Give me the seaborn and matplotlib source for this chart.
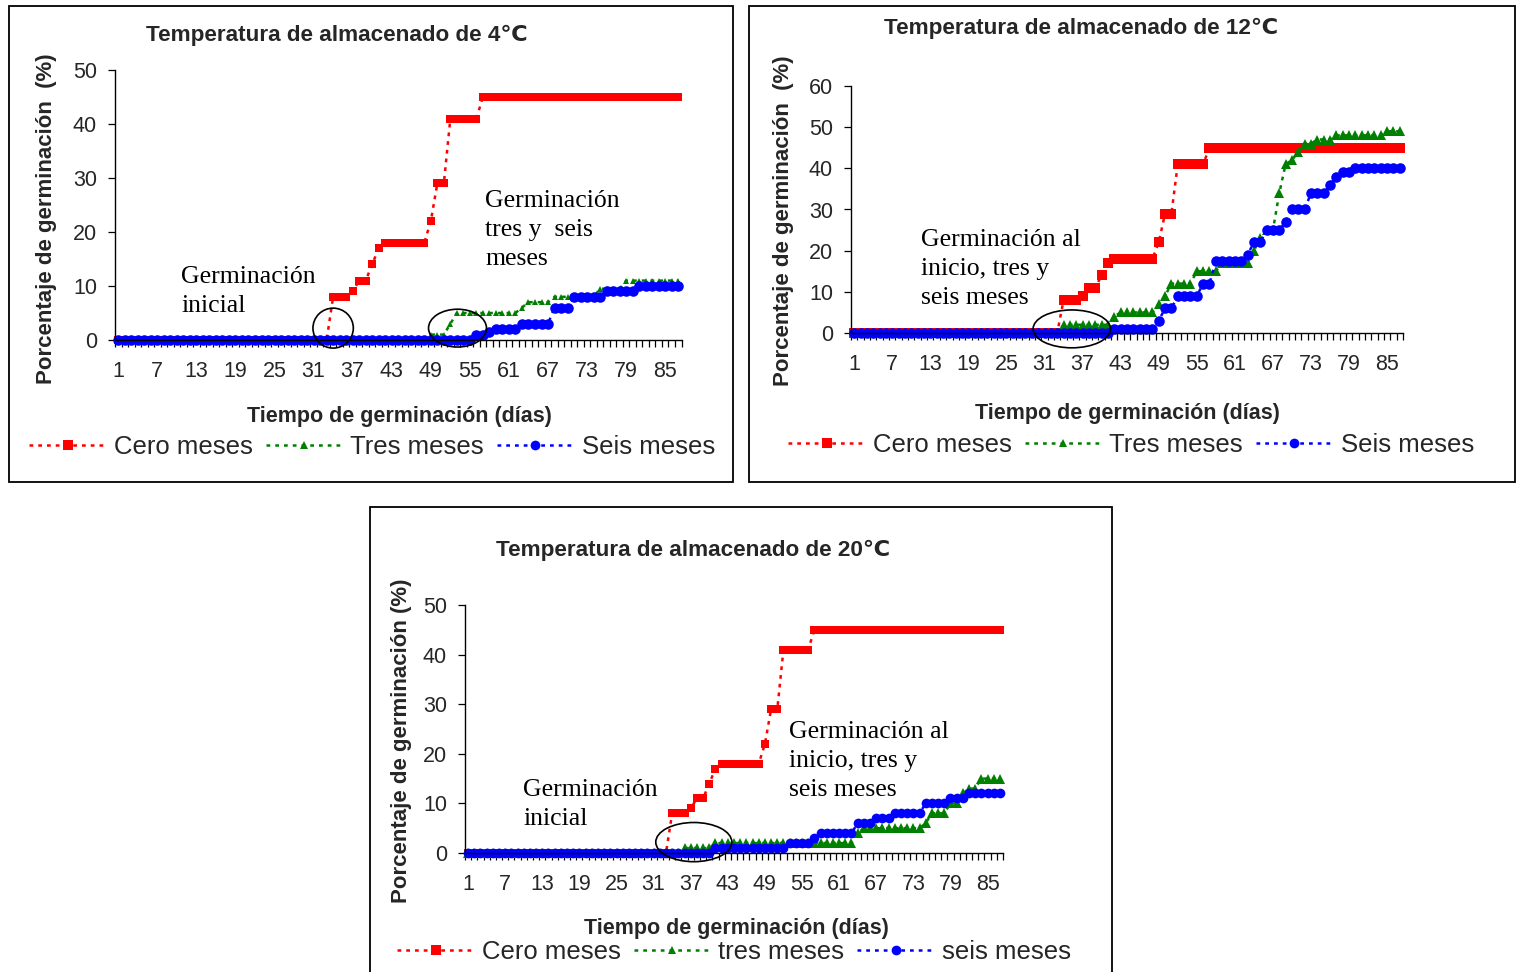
import numpy as np
import pandas as pd
import matplotlib
matplotlib.use("Agg")
import matplotlib.pyplot as plt
import seaborn as sns
from matplotlib.patches import Ellipse, Rectangle
from matplotlib.lines import Line2D

# ---------------- data (germination %, one value per day) ----------------
days = list(range(1, 88))
tick_days = list(range(1, 88, 6))          # 1, 7, 13, ... 85

# 4 C
cero_4 = [0]*33 + [8]*3 + [9] + [11]*2 + [14] + [17] + [18]*7 + [22] + [29]*2 + [41]*5 + [45]*31
tres_4 = [0]*48 + [1]*3 + [3] + [5]*10 + [6] + [7]*4 + [8]*7 + [9.5]*4 + [11]*9
seis_4 = [0]*55 + [1]*2 + [1.5] + [2]*4 + [3]*5 + [6]*3 + [8]*5 + [9]*5 + [10]*7

# 12 C
cero_12 = [0]*33 + [8]*3 + [9] + [11]*2 + [14] + [17] + [18]*7 + [22] + [29]*2 + [41]*5 + [45]*31
tres_12 = ([0]*33 + [2]*8 + [4] + [5]*6 + [7] + [9] + [12]*4 + [15]*4 + [17]*5 + [20] + [23]
           + [25]*2 + [34] + [41] + [42] + [44] + [46]*2 + [47]*3 + [48]*8 + [49]*3)
seis_12 = ([0]*41 + [1]*7 + [3] + [6]*2 + [9]*4 + [12]*2 + [17.5]*5 + [19] + [22]*2 + [25]*3
           + [27] + [30]*3 + [34]*3 + [36] + [38] + [39]*2 + [40]*8)

# 20 C
cero_20 = [0]*33 + [8]*3 + [9] + [11]*2 + [14] + [17] + [18]*7 + [22] + [29]*2 + [41]*5 + [45]*31
tres_20 = [0]*35 + [1]*5 + [2]*23 + [4] + [5]*10 + [6] + [8]*3 + [10]*2 + [12] + [13]*2 + [15]*4
seis_20 = [0]*40 + [1]*12 + [2]*4 + [3] + [4]*6 + [6]*3 + [7]*3 + [8]*5 + [10]*4 + [11]*3 + [12]*6

titles = ["Temperatura de almacenado de 4\u2103",
          "Temperatura de almacenado de 12\u2103",
          "Temperatura de almacenado de 20\u2103"]
ylabels = ["Porcentaje de germinaci\u00f3n  (%)",
           "Porcentaje de germinaci\u00f3n  (%)",
           "Porcentaje de germinaci\u00f3n (%)"]
xlabel = "Tiempo de germinaci\u00f3n (d\u00edas)"
legend_labels = [["Cero meses", "Tres meses", "Seis meses"],
                 ["Cero meses", "Tres meses", "Seis meses"],
                 ["Cero meses", "tres meses", "seis meses"]]
notes = [["Germinaci\u00f3n\ninicial", "Germinaci\u00f3n\ntres y  seis\nmeses"],
         ["Germinaci\u00f3n al\ninicio, tres y\nseis meses"],
         ["Germinaci\u00f3n\ninicial", "Germinaci\u00f3n al\ninicio, tres y\nseis meses"]]
series = [[cero_4, tres_4, seis_4], [cero_12, tres_12, seis_12], [cero_20, tres_20, seis_20]]
ymax = [50, 60, 50]

# ---------------- styling / layout ----------------
sns.set_theme(style="white")
plt.rcParams['font.family'] = ['Liberation Sans', 'DejaVu Sans']

W, H = 1516, 972
fig = plt.figure(figsize=(W / 100, H / 100), dpi=100)
def fx(px): return px / W
def fy(py): return 1 - py / H

colors = ["#FF0000", "#008000", "#0000FF"]
markers = ["s", "^", "o"]

panels = [
    dict(frame=(9, 6, 733, 482), ax=(115, 70, 681.5, 340),
         title=(337, 35), ylab=(47, 219), xlab=(399, 416), leg=(372, 447),
         ms=[6.4, 5.0, 7.6],
         notes_xy=[(181, 266), (485, 190)],
         ellipses=[(34.0, 2.2, 6.2, 7.4), (53.1, 2.2, 8.9, 7.0)]),
    dict(frame=(749, 6, 1515, 482), ax=(851, 86, 1403, 333),
         title=(1081, 28), ylab=(783, 221), xlab=(1127, 413), leg=(1131, 445),
         ms=[6.8, 7.8, 7.6],
         notes_xy=[(921, 229)],
         ellipses=[(35.3, 1.0, 12.2, 9.2)]),
    dict(frame=(370, 507, 1112, 975), ax=(465, 605, 1003, 853),
         title=(693, 550), ylab=(401, 741), xlab=(736, 928), leg=(734, 952),
         ms=[6.0, 6.6, 7.0],
         notes_xy=[(523, 779), (789, 721)],
         ellipses=[(37.5, 2.2, 12.3, 7.9)]),
]

for i, p in enumerate(panels):
    x0, y0, x1, y1 = p["frame"]
    fig.add_artist(Rectangle((fx(x0), fy(y1)), fx(x1) - fx(x0), fy(y0) - fy(y1),
                             transform=fig.transFigure, fill=False,
                             edgecolor="black", linewidth=1.3, clip_on=False))
    l, t, r, b = p["ax"]
    ax = fig.add_axes([fx(l), fy(b), fx(r) - fx(l), fy(t) - fy(b)])
    ax.set_facecolor("none")

    for j in range(3):
        sns.lineplot(x=days, y=series[i][j], ax=ax, color=colors[j],
                     marker=markers[j], markersize=p["ms"][j],
                     markeredgewidth=0, linewidth=1.8,
                     linestyle=(0, (1.5, 2.0)), errorbar=None, legend=False)
    for ln in ax.lines:
        ln.set_clip_on(False)

    ax.set_xlim(0.5, 87.5)
    ax.set_ylim(0, ymax[i])
    ax.set_yticks(range(0, ymax[i] + 1, 10))
    ax.set_xticks(tick_days)
    ax.set_xticklabels([str(d) for d in tick_days])
    ax.set_xticks(np.arange(0.5, 88, 1.0), minor=True)
    ax.tick_params(axis="x", which="major", length=0, pad=15, labelsize=15.5)
    ax.tick_params(axis="x", which="minor", length=5, width=0.9, color="black", direction="out")
    ax.tick_params(axis="y", which="major", length=5, width=0.9, color="black",
                   direction="out", pad=8, labelsize=15.5)
    ax.tick_params(bottom=True, left=True, which="both")
    ax.set_xlabel("")
    ax.set_ylabel("")
    for s in ["top", "right"]:
        ax.spines[s].set_visible(False)
    for s in ["left", "bottom"]:
        ax.spines[s].set_color("black")
        ax.spines[s].set_linewidth(1.0)
    ax.grid(False)

    for (cx, cy, ew, eh) in p["ellipses"]:
        ax.add_patch(Ellipse((cx, cy), ew, eh, transform=ax.transData, fill=False,
                             edgecolor="black", linewidth=1.2, clip_on=False, zorder=10))

    for txt, (tx, ty) in zip(notes[i], p["notes_xy"]):
        fig.text(fx(tx), fy(ty), txt, ha="left", va="top", fontsize=18.5,
                 family=["Liberation Serif", "DejaVu Serif"], linespacing=1.4, color="black")

    fig.text(fx(p["title"][0]), fy(p["title"][1]), titles[i], ha="center", va="center",
             fontsize=16.2, fontweight="bold")
    fig.text(fx(p["ylab"][0]), fy(p["ylab"][1]), ylabels[i], ha="center", va="center",
             rotation=90, fontsize=16, fontweight="bold")
    fig.text(fx(p["xlab"][0]), fy(p["xlab"][1]), xlabel, ha="center", va="center",
             fontsize=15.5, fontweight="bold")

    handles = [Line2D([], [], color=colors[j], marker=markers[j],
                      markersize=[6.5, 5.5, 7.0][j], markeredgewidth=0,
                      linewidth=1.8, linestyle=(0, (1.5, 2.0))) for j in range(3)]
    fig.legend(handles, legend_labels[i], loc="center",
               bbox_to_anchor=(fx(p["leg"][0]), fy(p["leg"][1])),
               ncol=3, frameon=False, fontsize=18.5, handlelength=3.0,
               handletextpad=0.3, columnspacing=0.5, borderpad=0, borderaxespad=0)

fig.savefig("out.png", dpi=100)
